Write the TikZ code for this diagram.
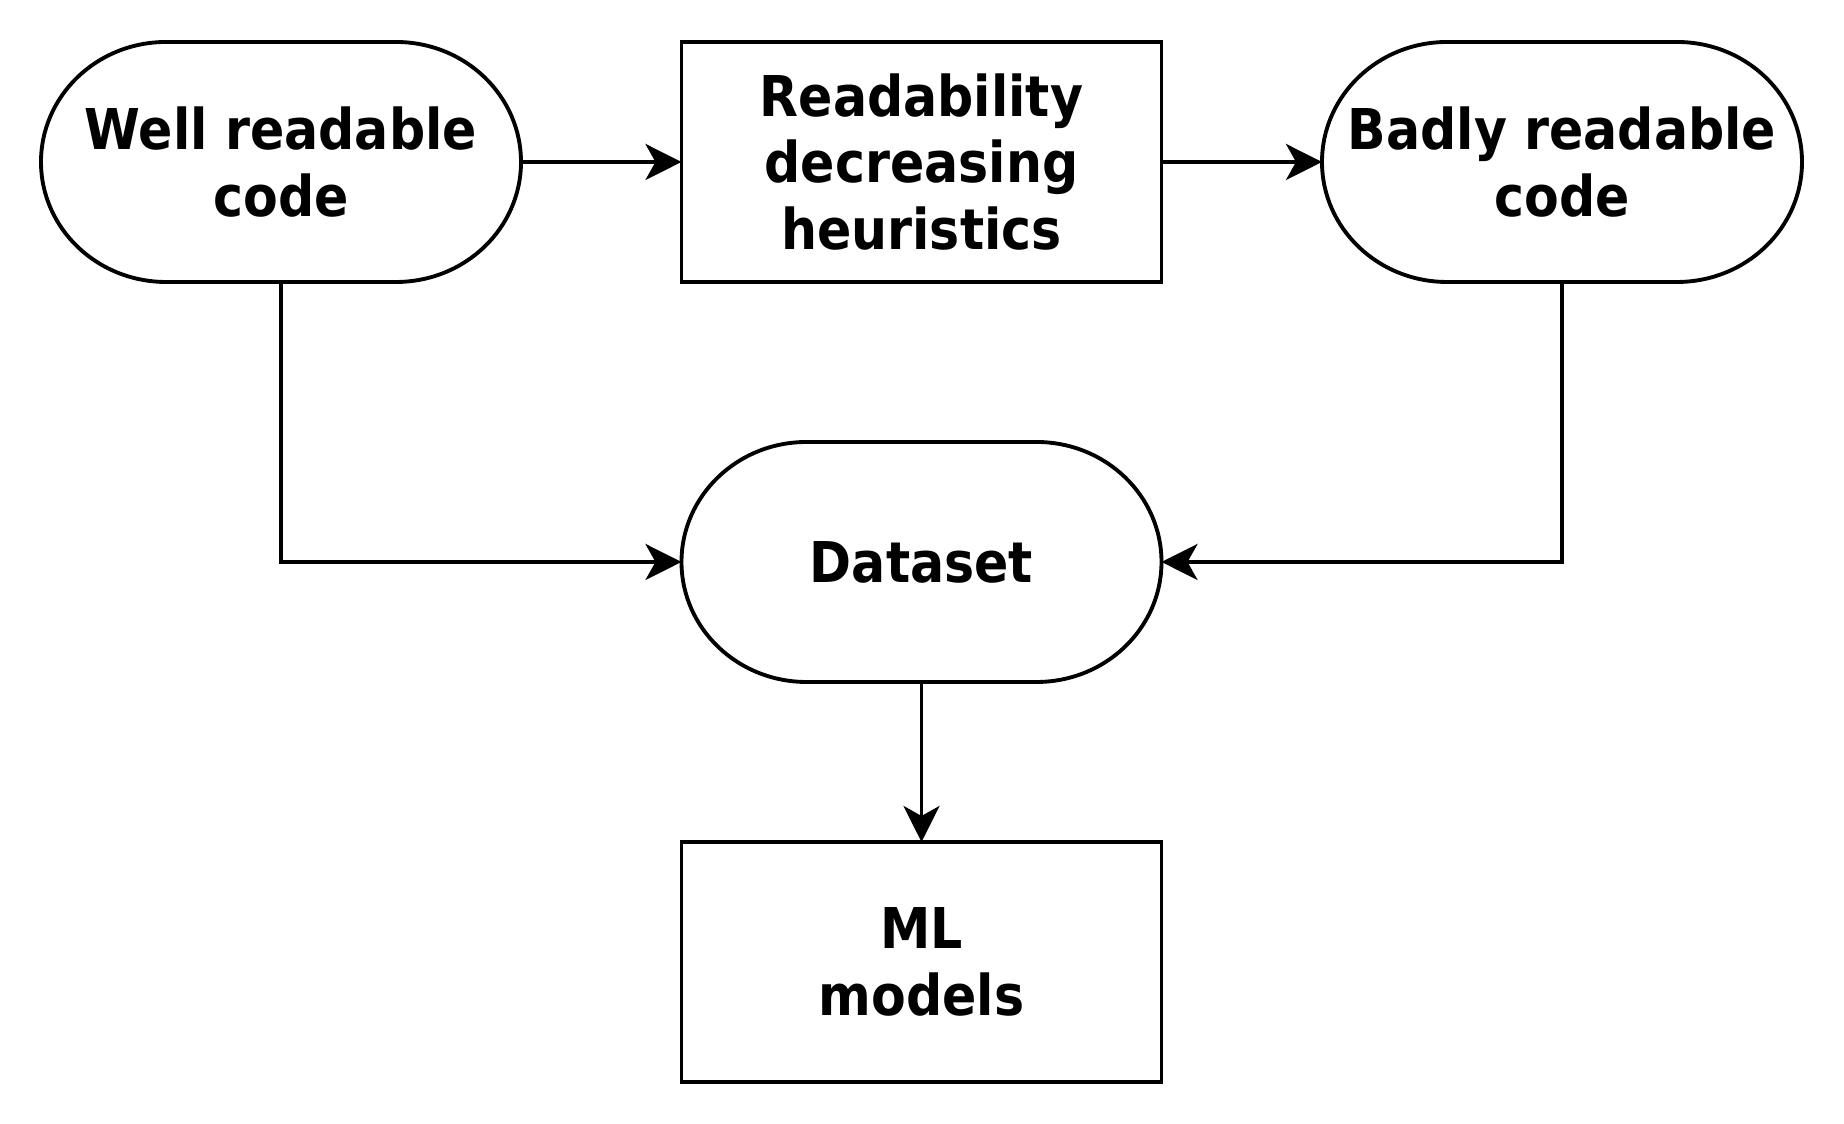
\documentclass[tikz,border=0pt]{standalone}
\usepackage{fontspec}
\setmainfont{DejaVu Sans Condensed}
\usetikzlibrary{arrows.meta}

\tikzset{
  line/.style={line width=1.1pt},
  arr/.style={line, -{Stealth[length=3.6mm,width=3.6mm,inset=1mm]}},
  txt/.style={align=center, font=\bfseries\fontsize{16}{19}\selectfont,
    minimum width=4.8cm, minimum height=2.4cm, inner sep=0pt, outer sep=0pt},
  box/.style={txt, draw, line},
}

% outline of a rounded (terminal) node
\newcommand{\termline}[1]{%
  \draw[line] ([xshift=1.25cm]#1.north west) -- ([xshift=-1.25cm]#1.north east)
    arc[start angle=90, end angle=-90, x radius=1.25cm, y radius=1.2cm]
    -- ([xshift=1.25cm]#1.south west)
    arc[start angle=270, end angle=90, x radius=1.25cm, y radius=1.2cm] -- cycle;}

\begin{document}
\begin{tikzpicture}
    \useasboundingbox (0,0) rectangle (18.44,11.24);

    \node [txt] (well) at (2.81,9.62) {Well readable\\code};
    \node [box] (heur) at (9.215,9.62) {Readability\\decreasing\\heuristics};
    \node [txt] (bad) at (15.62,9.62) {Badly readable\\code};
    \node [txt] (data) at (9.215,5.62) {Dataset};
    \node [box] (ml) at (9.215,1.62) {ML\\models};

    \termline{well}
    \termline{bad}
    \termline{data}

    \draw[arr] (well.east) -- (heur.west);
    \draw[arr] (heur.east) -- (bad.west);
    \draw[arr] (well.south) |- (data.west);
    \draw[arr] (bad.south) |- (data.east);
    \draw[arr] (data.south) -- (ml.north);

\end{tikzpicture}
\end{document}
